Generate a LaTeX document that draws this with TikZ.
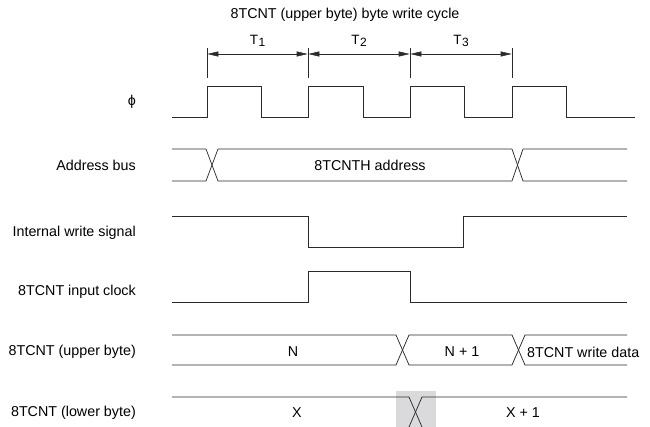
\documentclass[tikz,border=0pt]{standalone}
\usepackage{fontspec}
\setmainfont{Liberation Sans}
\usetikzlibrary{arrows.meta}
\definecolor{wire}{HTML}{2B2B2B}
\definecolor{greybox}{HTML}{DADADC}
\begin{document}
\begin{tikzpicture}[x=1pt,y=-1pt,
  wave/.style={draw=wire, line width=0.75pt, line join=miter},
  lbl/.style={anchor=east, inner sep=0pt, font=\fontsize{14.3}{16}\selectfont},
  txt/.style={inner sep=0pt, font=\fontsize{14.3}{16}\selectfont},
  tick/.style={draw=wire, line width=0.6pt},
  dim/.style={draw=wire, line width=0.6pt, {Triangle[length=11pt,width=5pt]}-{Triangle[length=11pt,width=5pt]}, shorten <=0.3pt, shorten >=0.3pt}]
\useasboundingbox (0,0) rectangle (650,427);

% title
\node[txt] (title) at (345,15) {8TCNT (upper byte) byte write cycle};

% ticks and dimension arrows
\foreach \n/\x in {1/207,2/308,3/410,4/512}{
  \coordinate (tt\n) at (\x,48);
  \coordinate (tb\n) at (\x,78);
  \coordinate (ta\n) at (\x,54);
  \draw[tick] (tt\n) -- (tb\n);
}
\draw[dim] (ta1) -- (ta2);
\draw[dim] (ta2) -- (ta3);
\draw[dim] (ta3) -- (ta4);
\newcommand{\Tsub}[1]{T\kern0.5pt\raisebox{-1.5pt}{\fontsize{12}{12}\selectfont #1}}
\node[txt, font=\fontsize{13.5}{15}\selectfont] (T1) at (257.5,41) {\Tsub{1}};
\node[txt, font=\fontsize{13.5}{15}\selectfont] (T2) at (359,41) {\Tsub{2}};
\node[txt, font=\fontsize{13.5}{15}\selectfont] (T3) at (461,41) {\Tsub{3}};

% signal labels
\node[lbl] (lphi) at (136,102) {ϕ};
\node[lbl] (laddr) at (136,165) {Address bus};
\node[lbl] (lwr) at (136,233) {Internal write signal};
\node[lbl] (lclk) at (136,292) {8TCNT input clock};
\node[lbl] (lup) at (136,352) {8TCNT (upper byte)};
\node[lbl] (llo) at (136,413) {8TCNT (lower byte)};

% phi clock
\draw[wave] (172,117) -- (207,117) -- (207,86) -- (261,86) -- (261,117)
  -- (308,117) -- (308,86) -- (363,86) -- (363,117)
  -- (410,117) -- (410,86) -- (464,86) -- (464,117)
  -- (512,117) -- (512,86) -- (566,86) -- (566,117) -- (635,117);

% address bus
\draw[wave] (172,149) -- (206,149) -- (218,181) -- (512,181) -- (523,149) -- (627,149);
\draw[wave] (172,181) -- (206,181) -- (218,149) -- (512,149) -- (523,181) -- (627,181);
\node[txt] (addr) at (370,165) {8TCNTH address};

% internal write signal
\draw[wave] (172,216) -- (308,216) -- (308,247) -- (463,247) -- (463,216) -- (627,216);

% 8TCNT input clock
\draw[wave] (172,302) -- (308,302) -- (308,271) -- (410,271) -- (410,302) -- (627,302);

% upper byte
\draw[wave] (172,335) -- (396,335) -- (409,365) -- (512,365) -- (525,335) -- (627,335);
\draw[wave] (172,365) -- (396,365) -- (409,335) -- (512,335) -- (525,365) -- (627,365);
\node[txt] (vN) at (293,352) {N};
\node[txt] (vN1) at (462,352) {N + 1};
\node[txt, anchor=west] (vwd) at (527,352) {8TCNT write data};

% lower byte
\fill[greybox] (396,391) rectangle (436,427);
\draw[wave] (172,397) -- (409,397) -- (422,427);
\draw[wave] (409,427) -- (422,397) -- (627,397);
\node[txt] (vX) at (297,413) {X};
\node[txt] (vX1) at (523,413) {X + 1};
\end{tikzpicture}
\end{document}
